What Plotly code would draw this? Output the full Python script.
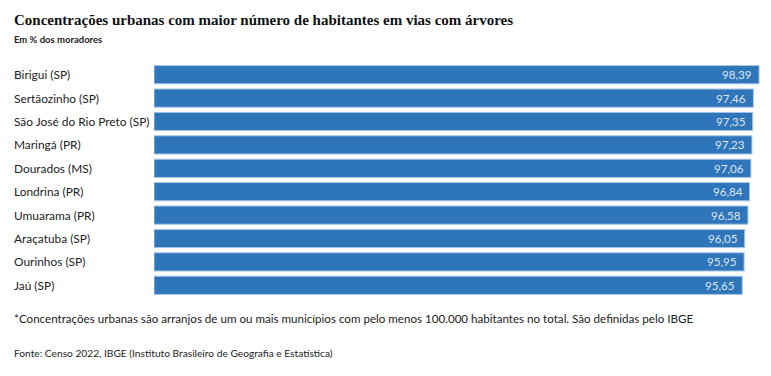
import plotly.graph_objects as go

categories = ["Birigui (SP)", "Sertãozinho (SP)", "São José do Rio Preto (SP)", "Maringá (PR)",
              "Dourados (MS)", "Londrina (PR)", "Umuarama (PR)", "Araçatuba (SP)",
              "Ourinhos (SP)", "Jaú (SP)"]
values = [98.39, 97.46, 97.35, 97.23, 97.06, 96.84, 96.58, 96.05, 95.95, 95.65]
value_labels = [f"{v:.2f}".replace(".", ",") for v in values]

title = "Concentrações urbanas com maior número de habitantes em vias com árvores"
subtitle = "Em % dos moradores"
footnote = "*Concentrações urbanas são arranjos de um ou mais municípios com pelo menos 100.000 habitantes no total. São definidas pelo IBGE"
source = "Fonte: Censo 2022, IBGE (Instituto Brasileiro de Geografia e Estatística)"

OFF = 8  # page body margin
W, H = 771 - OFF, 376 - OFF
L = 154 - OFF
R = W - (769 - OFF)
T = 63.3 - OFF
B = H - (296.7 - OFF)
pw = W - L - R
ph = H - T - B
font = "Lato"
X0 = (12 - OFF - L) / pw

fig = go.Figure(go.Bar(
    x=values, y=categories, orientation="h",
    marker=dict(color="#2e75b9", line=dict(color="#a9c8e8", width=1)),
    width=0.78, hoverinfo="skip",
))

ann = []
for c in categories:
    ann.append(dict(x=X0, xref="paper", y=c, yref="y", text=c, showarrow=False,
                    xanchor="left", yanchor="middle",
                    font=dict(size=11.9, family=font, color="#222")))
for c, v, t in zip(categories, values, value_labels):
    ann.append(dict(x=v, xref="x", y=c, yref="y", text=t, showarrow=False,
                    xanchor="right", yanchor="middle", xshift=-5,
                    font=dict(size=11.6, family=font, color="#dfe8f4")))

def fy(py):
    return (H - B - (py - OFF)) / ph

ann += [
    dict(x=X0, xref="paper", y=fy(20), yref="paper", text=f"<b>{title}</b>",
         showarrow=False, xanchor="left", yanchor="middle",
         font=dict(size=15, family="Liberation Serif", color="#111")),
    dict(x=X0, xref="paper", y=fy(40), yref="paper", text=f"<b>{subtitle}</b>",
         showarrow=False, xanchor="left", yanchor="middle",
         font=dict(size=9.5, family=font, color="#222")),
    dict(x=X0, xref="paper", y=fy(318), yref="paper", text=footnote,
         showarrow=False, xanchor="left", yanchor="middle",
         font=dict(size=11.6, family=font, color="#222")),
    dict(x=X0, xref="paper", y=fy(353), yref="paper", text=source,
         showarrow=False, xanchor="left", yanchor="middle",
         font=dict(size=10.2, family=font, color="#222")),
]

fig.update_layout(
    width=W, height=H, margin=dict(l=L, r=R, t=T, b=B),
    paper_bgcolor="white", plot_bgcolor="white",
    xaxis=dict(range=[0, 100], visible=False, fixedrange=True),
    yaxis=dict(autorange="reversed", showticklabels=False, showgrid=False, zeroline=False,
               fixedrange=True),
    annotations=ann, showlegend=False,
)
fig.write_html("out.html", config={"displayModeBar": False})
